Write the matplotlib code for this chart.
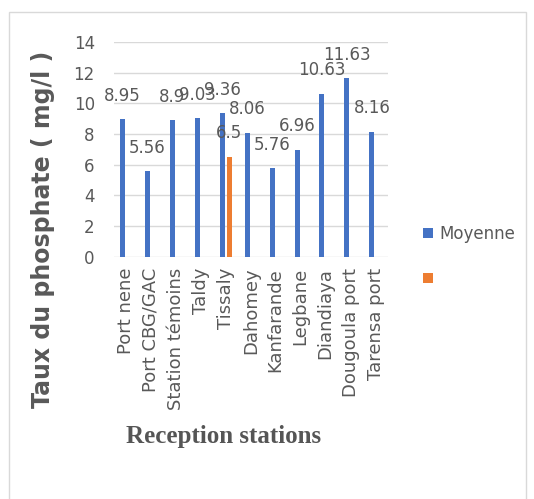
import numpy as np
import matplotlib
matplotlib.use("Agg")
import matplotlib.pyplot as plt
from matplotlib.patches import Rectangle

# phosphate levels per station
stations = ["Port nene", "Port CBG/GAC", "Station témoins", "Taldy", "Tissaly",
            "Dahomey", "Kanfarande", "Legbane", "Diandiaya", "Dougoula port",
            "Tarensa port"]
moyenne = [8.95, 5.56, 8.9, 9.03, 9.36, 8.06, 5.76, 6.96, 10.63, 11.63, 8.16]
serie2 = [np.nan, np.nan, np.nan, np.nan, 6.5, np.nan, np.nan, np.nan, np.nan, np.nan, np.nan]
yticks = [0, 2, 4, 6, 8, 10, 12, 14]

gray = "#595959"
blue = "#4472C4"
orange = "#ED7D31"

fig = plt.figure(figsize=(5.34, 4.99), dpi=100)
ax = fig.add_axes([113.5/534, 1-256.7/499, 274.5/534, (256.7-42)/499])

x = np.arange(len(stations))
w = 0.2
off = 0.145
b1 = ax.bar(x - off, moyenne, w, color=blue, label="Moyenne", zorder=3)
b2 = ax.bar(x + off, serie2, w, color=orange, label=" ", zorder=3)

# value labels above the bars
for xi, v in zip(x - off, moyenne):
    ax.annotate(f"{v:g}", (xi, v), xytext=(0, 17), textcoords="offset points",
                ha="center", va="center", fontsize=12, color=gray, zorder=4)
for xi, v in zip(x + off, serie2):
    if not np.isnan(v):
        ax.annotate(f"{v:g}", (xi, v), xytext=(0, 17), textcoords="offset points",
                    ha="center", va="center", fontsize=12, color=gray, zorder=4)

ax.set_xlim(-0.5, len(stations) - 0.5)
ax.set_ylim(0, 14)
ax.set_yticks(yticks)
ax.set_xticks(x)
ax.set_xticklabels(stations, rotation=90, fontsize=13, color=gray)
ax.tick_params(axis="x", length=0, pad=8)
ax.tick_params(axis="y", length=0, pad=13.5, labelsize=12, labelcolor=gray)
ax.grid(axis="y", color="#d9d9d9", linewidth=1, zorder=0)
for s in ["top", "right", "left", "bottom"]:
    ax.spines[s].set_visible(False)
ax.set_axisbelow(True)

fig.text(43/534, 1-229/499, "Taux du phosphate ( mg/l )", rotation=90,
         ha="center", va="center", fontsize=17, fontweight="bold", color=gray)
fig.text(224/534, 1-436/499, "Reception stations", ha="center", va="center",
         fontsize=18, fontweight="bold", family="Liberation Serif", color="#555555")

fig.legend(handles=[b1, b2], loc="upper left",
           bbox_to_anchor=(423/534, 1-225/499), frameon=False,
           fontsize=12, labelcolor=gray, borderpad=0, borderaxespad=0,
           handlelength=0.6, handleheight=0.6, handletextpad=0.4,
           labelspacing=1.6)

# outer chart frame
fig.patches.append(Rectangle((9/534, -0.05), (526-9)/534, 1-12/499+0.05,
                             transform=fig.transFigure, fill=False,
                             edgecolor="#d9d9d9", linewidth=1))

fig.savefig("out.png", dpi=100)
